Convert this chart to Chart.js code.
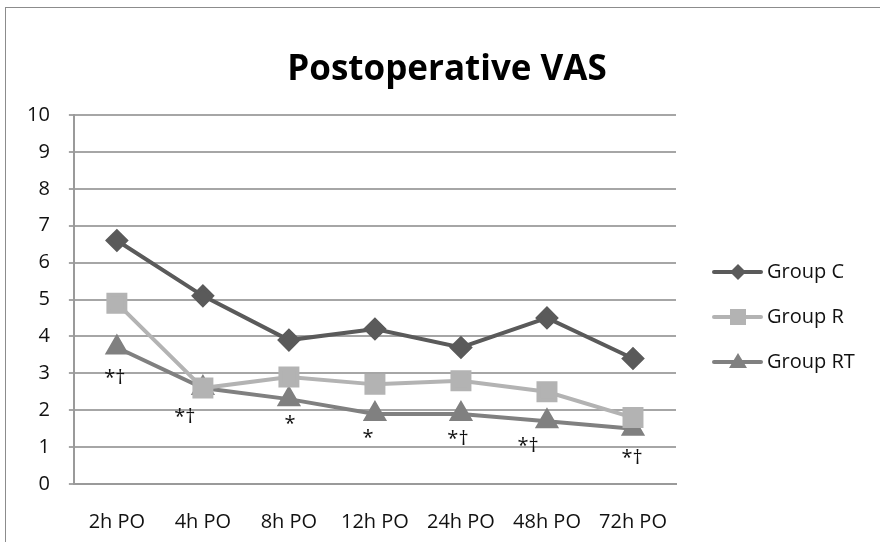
<!DOCTYPE html>
<html>
<head>
<meta charset="utf-8">
<script src="https://cdn.jsdelivr.net/npm/chart.js@4"></script>
<style>
  body { margin: 0; background: #fff; }
  #wrap { position: relative; width: 880px; height: 542px; }
  #frame { position: absolute; left: 5px; top: 7px; width: 900px; height: 560px; border: 1px solid #8c8c8c; }
  canvas { position: absolute; left: 0; top: 0; }
</style>
</head>
<body>
<div id="wrap">
  <div id="frame"></div>
  <canvas id="vasChart" width="880" height="542"></canvas>
</div>
<script>
  const timepoints = ['2h PO', '4h PO', '8h PO', '12h PO', '24h PO', '48h PO', '72h PO'];
  const groupC = [6.6, 5.1, 3.9, 4.2, 3.7, 4.5, 3.4];
  const groupR = [4.9, 2.6, 2.9, 2.7, 2.8, 2.5, 1.8];
  const groupRT = [3.7, 2.6, 2.3, 1.9, 1.9, 1.7, 1.5];
  const significance = ['*†', '*†', '*', '*', '*†', '*†', '*†'];
  const yTicks = [0, 1, 2, 3, 4, 5, 6, 7, 8, 9, 10];
  const chartTitle = 'Postoperative VAS';

  const fontFamily = '"Open Sans", "Noto Sans", sans-serif';

  // offsets (px) of the significance marks from the Group RT points
  const markOffsets = [[-2, 31], [-18, 29], [1, 25], [-7, 24], [-3, 25], [-19, 25], [-1, 30]];

  const markPlugin = {
    id: 'marks',
    afterDatasetsDraw(chart) {
      const { ctx, scales: { x, y } } = chart;
      ctx.save();
      ctx.fillStyle = '#111';
      ctx.font = '20px ' + fontFamily;
      ctx.textAlign = 'center';
      ctx.textBaseline = 'middle';
      significance.forEach((s, i) => {
        const px = x.getPixelForValue(i) + markOffsets[i][0];
        const py = y.getPixelForValue(groupRT[i]) + markOffsets[i][1];
        ctx.fillText(s, px, py);
      });
      ctx.restore();
    }
  };

  const titlePlugin = {
    id: 'bigTitle',
    afterDraw(chart) {
      const { ctx } = chart;
      ctx.save();
      ctx.fillStyle = '#000';
      ctx.font = 'bold 35px ' + fontFamily;
      ctx.textAlign = 'center';
      ctx.textBaseline = 'middle';
      ctx.fillText(chartTitle, 447, 70);
      ctx.restore();
    }
  };

  const legendPlugin = {
    id: 'sideLegend',
    afterDraw(chart) {
      const { ctx } = chart;
      const left = 714, top = 272, gap = 45;
      ctx.save();
      chart.data.datasets.forEach((ds, i) => {
        const yy = top + i * gap;
        ctx.strokeStyle = ds.borderColor;
        ctx.lineWidth = 4;
        ctx.lineCap = 'round';
        ctx.beginPath();
        ctx.moveTo(left, yy);
        ctx.lineTo(left + 47, yy);
        ctx.stroke();
        ctx.fillStyle = ds.backgroundColor;
        const cx = left + 24;
        ctx.beginPath();
        if (ds.pointStyle === 'rectRot') {
          ctx.moveTo(cx, yy - 8); ctx.lineTo(cx + 8, yy); ctx.lineTo(cx, yy + 8); ctx.lineTo(cx - 8, yy);
        } else if (ds.pointStyle === 'rect') {
          ctx.rect(cx - 8, yy - 8, 16, 16);
        } else {
          ctx.moveTo(cx, yy - 9); ctx.lineTo(cx + 9, yy + 6); ctx.lineTo(cx - 9, yy + 6);
        }
        ctx.closePath();
        ctx.fill();
        ctx.fillStyle = '#111';
        ctx.font = '20px ' + fontFamily;
        ctx.textBaseline = 'middle';
        ctx.fillText(ds.label, left + 53, yy);
      });
      ctx.restore();
    }
  };

  new Chart(document.getElementById('vasChart'), {
    type: 'line',
    data: {
      labels: timepoints,
      datasets: [
        { label: 'Group C', data: groupC, borderColor: '#5a5a5a', backgroundColor: '#5a5a5a',
          pointStyle: 'rectRot', pointRadius: 9, borderWidth: 4 },
        { label: 'Group R', data: groupR, borderColor: '#b3b3b3', backgroundColor: '#b3b3b3',
          pointStyle: 'rect', pointRadius: 12, borderWidth: 4 },
        { label: 'Group RT', data: groupRT, borderColor: '#808080', backgroundColor: '#808080',
          pointStyle: 'triangle', pointRadius: 10, borderWidth: 4 }
      ]
    },
    options: {
      responsive: false,
      animation: false,
      layout: { padding: { left: 8, right: 204, top: 115, bottom: -10 } },
      plugins: {
        legend: { display: false },
        tooltip: { enabled: false },
        title: { display: false }
      },
      scales: {
        x: {
          offset: true,
          grid: { display: false },
          border: { color: '#9a9a9a', width: 2 },
          ticks: { color: '#111', font: { family: fontFamily, size: 20 }, padding: 18 }
        },
        y: {
          min: 0, max: 10,
          afterBuildTicks(axis) { axis.ticks = yTicks.map(v => ({ value: v })); },
          grid: { color: '#a6a6a6', lineWidth: 2, tickLength: 5 },
          border: { color: '#9a9a9a', width: 2 },
          ticks: { color: '#111', font: { family: fontFamily, size: 20 }, padding: 19 }
        }
      }
    },
    plugins: [markPlugin, titlePlugin, legendPlugin]
  });
</script>
</body>
</html>
